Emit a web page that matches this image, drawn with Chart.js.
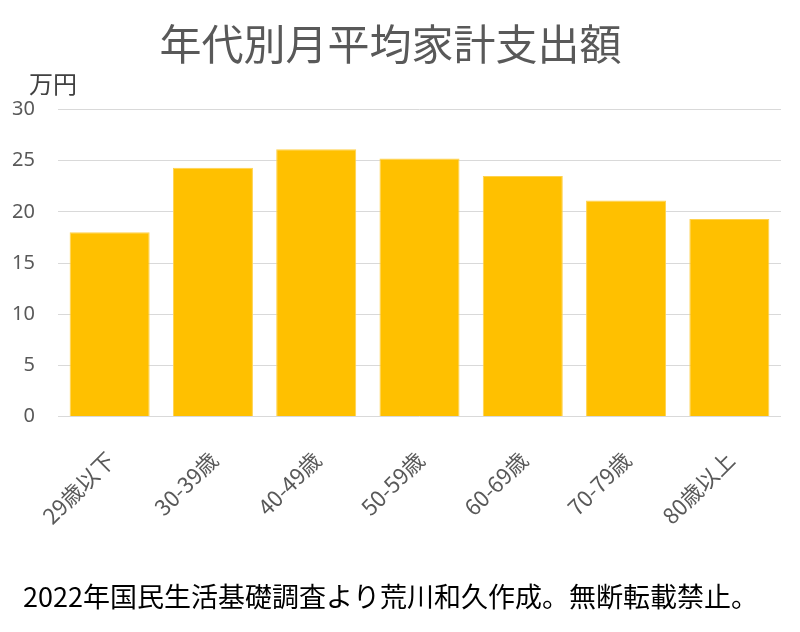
<!DOCTYPE html>
<html>
<head>
<meta charset="utf-8">
<script src="https://cdn.jsdelivr.net/npm/chart.js@4/dist/chart.umd.min.js"></script>
<style>
  html, body { margin: 0; padding: 0; background: #fff; }
  #wrap { width: 800px; height: 632px; }
</style>
</head>
<body>
<div id="wrap"><canvas id="spendChart"></canvas></div>
<script>
// data (万円 per month)
const ageGroups = ['29歳以下', '30-39歳', '40-49歳', '50-59歳', '60-69歳', '70-79歳', '80歳以上'];
const monthlySpend = [18.0, 24.3, 26.1, 25.2, 23.5, 21.1, 19.3];
const yTicks = [0, 5, 10, 15, 20, 25, 30];

const titleText = '年代別月平均家計支出額';
const footText = '2022年国民生活基礎調査より荒川和久作成。無断転載禁止。';
const unitText = '万円';

const jpFont = "'Noto Sans CJK JP', 'Noto Sans', sans-serif";
const gray = '#595959';

// draws the unit label above the y axis
const unitLabel = {
    id: 'unitLabel',
    afterDraw: (chart) => {
        const ctx = chart.ctx;
        const area = chart.chartArea;
        ctx.save();
        ctx.font = '24px ' + jpFont;
        ctx.fillStyle = '#404040';
        ctx.textAlign = 'left';
        ctx.textBaseline = 'middle';
        ctx.fillText(unitText, area.left - 29, area.top - 26);
        ctx.restore();
    }
};

var spendChart = new Chart('spendChart', {
    type: 'bar',
    data: {
        labels: ageGroups,
        datasets: [{
            data: monthlySpend,
            backgroundColor: '#FFC000',
            borderColor: '#FFD24D',
            borderWidth: 1,
            barPercentage: 0.775,
            categoryPercentage: 1.0
        }]
    },
    options: {
        responsive: true,
        maintainAspectRatio: false,
        animation: false,
        layout: {
            padding: { left: 0, right: 19, top: 0, bottom: 0 }
        },
        plugins: {
            legend: { display: false },
            tooltip: { enabled: false },
            title: {
                display: true,
                text: titleText,
                color: gray,
                font: { family: jpFont, size: 42, weight: 'normal', lineHeight: 1.2 },
                padding: { top: 19, bottom: 40 }
            },
            subtitle: {
                display: true,
                position: 'bottom',
                text: footText,
                color: '#000000',
                font: { family: jpFont, size: 27, weight: 'normal', lineHeight: 1.2 },
                padding: { top: 0, bottom: 19 }
            }
        },
        scales: {
            x: {
                grid: { display: false },
                border: { display: false },
                ticks: {
                    color: gray,
                    font: { family: jpFont, size: 22 },
                    minRotation: 45,
                    maxRotation: 45,
                    labelOffset: 1,
                    padding: 22,
                    autoSkip: false
                },
                afterFit: (scale) => { scale.height = 164; }
            },
            y: {
                min: 0,
                max: 30,
                afterBuildTicks: (scale) => {
                    scale.ticks = yTicks.map(v => ({ value: v }));
                },
                grid: {
                    color: '#d9d9d9',
                    lineWidth: 1,
                    drawTicks: false
                },
                border: { display: false },
                ticks: {
                    color: gray,
                    font: { family: "'Noto Sans', sans-serif", size: 20 },
                    padding: 23
                },
                afterFit: (scale) => { scale.width = 58; }
            }
        }
    },
    plugins: [unitLabel]
});
</script>
</body>
</html>
